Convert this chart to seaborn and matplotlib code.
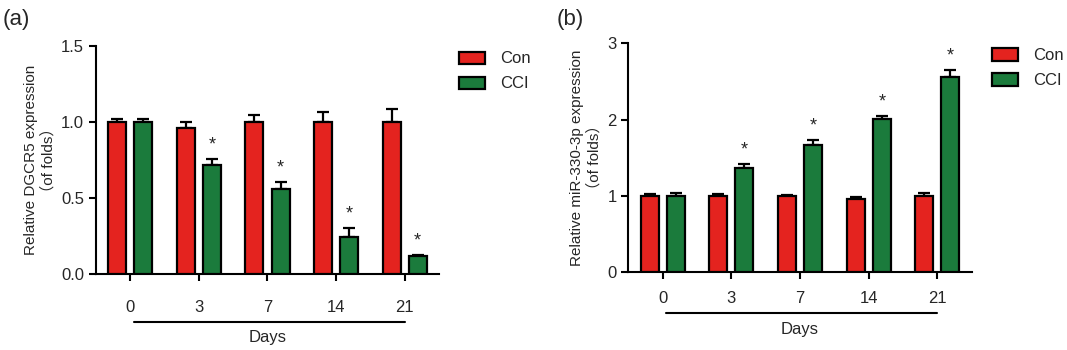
import matplotlib
matplotlib.use("Agg")
import matplotlib.pyplot as plt
import matplotlib.patches as mpatches
import matplotlib.transforms as mtransforms
import seaborn as sns
import pandas as pd

sns.set_style("ticks")
plt.rcParams['font.family'] = ['Liberation Sans', 'Noto Sans CJK SC', 'DejaVu Sans']

days = ["0", "3", "7", "14", "21"]
groups = ["Con", "CCI"]

dgcr5_con = [1.00, 0.96, 1.00, 1.00, 1.00]
dgcr5_con_err = [0.02, 0.04, 0.045, 0.065, 0.085]
dgcr5_cci = [1.00, 0.72, 0.56, 0.245, 0.12]
dgcr5_cci_err = [0.022, 0.036, 0.043, 0.055, 0.003]

mir_con = [1.00, 1.00, 0.99, 0.96, 0.99]
mir_con_err = [0.02, 0.025, 0.012, 0.025, 0.045]
mir_cci = [1.00, 1.36, 1.67, 2.01, 2.56]
mir_cci_err = [0.03, 0.05, 0.055, 0.04, 0.085]

colors = {"Con": "#E4231F", "CCI": "#1B7B3C"}


def make_df(con, cci):
    return pd.DataFrame({
        "day": days * 2,
        "group": ["Con"] * len(days) + ["CCI"] * len(days),
        "value": list(con) + list(cci),
    })


def panel(ax, con, con_err, cci, cci_err, ylim, yticks, yticklabels, ylabel,
          line_y, days_y, xpad):
    df = make_df(con, cci)
    sns.barplot(data=df, x="day", y="value", hue="group", order=days,
                hue_order=groups, palette=colors, saturation=1, width=0.76,
                gap=0.31, edgecolor="black", linewidth=1.6, errorbar=None,
                ax=ax, legend=False, zorder=3)
    errs = {"Con": con_err, "CCI": cci_err}
    for cont, g in zip(ax.containers, groups):
        for bar, e in zip(cont, errs[g]):
            xc = bar.get_x() + bar.get_width() / 2
            h = bar.get_height()
            ax.errorbar([xc], [h], yerr=[[0], [e]], fmt="none", ecolor="black",
                        elinewidth=1.6, capsize=4.5, capthick=1.6, zorder=2)
            if g == "CCI" and abs(h - 1.0) > 0.05:
                ax.text(xc, h + e + (ylim[1] - ylim[0]) * 0.025, "*",
                        ha="center", va="bottom", fontsize=13)
    ax.set_xlim(-0.5, 4.5)
    ax.set_ylim(*ylim)
    ax.set_yticks(yticks)
    ax.set_yticklabels(yticklabels)
    ax.set_xlabel("")
    ax.set_ylabel(ylabel, fontsize=11, linespacing=1.25, labelpad=4)
    sns.despine(ax=ax)
    for s in ["left", "bottom"]:
        ax.spines[s].set_linewidth(1.5)
        ax.spines[s].set_color("black")
    ax.tick_params(axis="both", width=1.5, length=5, color="black",
                   labelsize=12)
    ax.tick_params(axis="x", pad=xpad)
    trans = mtransforms.blended_transform_factory(ax.transData, ax.transAxes)
    ax.plot([0.05, 4.0], [line_y, line_y], color="black", lw=1.5,
            transform=trans, clip_on=False)
    ax.text(2.0, days_y, "Days", ha="center", va="center", fontsize=12,
            transform=trans)


fig = plt.figure(figsize=(10.67, 3.5), dpi=100)
ax1 = fig.add_axes([0.090, 0.217, 0.3214, 0.652])
ax2 = fig.add_axes([0.5889, 0.2237, 0.3218, 0.6523])

panel(ax1, dgcr5_con, dgcr5_con_err, dgcr5_cci, dgcr5_cci_err,
      (0, 1.5), [0, 0.5, 1.0, 1.5], ["0.0", "0.5", "1.0", "1.5"],
      "Relative DGCR5 expression\n（of folds）", -0.21, -0.28, 14)
panel(ax2, mir_con, mir_con_err, mir_cci, mir_cci_err,
      (0, 3), [0, 1, 2, 3], ["0", "1", "2", "3"],
      "Relative miR-330-3p expression\n（of folds）", -0.182, -0.255, 9)

handles = [mpatches.Patch(facecolor=colors[g], edgecolor="black", linewidth=1.6,
                          label=g) for g in groups]
for bx, by in [(0.4305, 0.853), (0.930, 0.862)]:
    fig.legend(handles=handles, loc="upper left", bbox_to_anchor=(bx, by),
               frameon=False, fontsize=12, handlelength=1.55, handleheight=0.75,
               handletextpad=0.9, labelspacing=0.6, borderpad=0, borderaxespad=0)

fig.text(0.002, 0.945, "(a)", fontsize=16, ha="left", va="center")
fig.text(0.522, 0.945, "(b)", fontsize=16, ha="left", va="center")

fig.savefig("out.png", dpi=100)
